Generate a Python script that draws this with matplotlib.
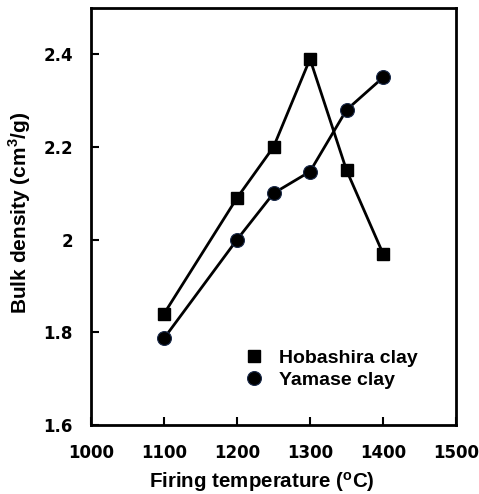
# bulk density vs firing temperature

# require
import matplotlib
matplotlib.use( 'Agg' )
import matplotlib.pyplot as plt

# data
TEMPS_H   = [ 1100, 1200, 1250, 1300, 1350, 1400 ]
HOBASHIRA = [ 1.84, 2.09, 2.20, 2.39, 2.15, 1.97 ]
TEMPS_Y   = [ 1100, 1200, 1250, 1300, 1350, 1400 ]
YAMASE    = [ 1.787, 2.00, 2.10, 2.147, 2.28, 2.35 ]
XTICKS    = [ 1000, 1100, 1200, 1300, 1400, 1500 ]
YTICKS    = [ 1.6, 1.8, 2.0, 2.2, 2.4 ]
YLABELS   = [ '1.6', '1.8', '2', '2.2', '2.4' ]

# configure
WIDE   = [ 'DejaVu Sans' ]
NARROW = [ 'Liberation Sans', 'DejaVu Sans' ]
plt.rcParams[ 'font.family' ] = NARROW
plt.rcParams[ 'font.weight' ] = 'bold'
plt.rcParams[ 'mathtext.fontset' ] = 'custom'
plt.rcParams[ 'mathtext.bf' ] = 'Liberation Sans:bold'

# initialize
figure = plt.figure( figsize=( 4.79, 4.94 ), dpi=100 )
axis   = figure.add_axes( [ 91/479, 1 - 425/494, 365/479, 417/494 ] )

# plot
axis.plot( TEMPS_H, HOBASHIRA, color='black', linewidth=2, marker='s', markersize=8.6, label='Hobashira clay' )
axis.plot( TEMPS_Y, YAMASE, color='black', linewidth=2, marker='o', markersize=10, markeredgecolor='#1a2a4a', markeredgewidth=0.8, label='Yamase clay' )

# axes
axis.set_xlim( 1000, 1500 )
axis.set_ylim( 1.6, 2.5 )
axis.set_xticks( XTICKS )
axis.set_yticks( YTICKS )
axis.set_yticklabels( YLABELS )
axis.tick_params( direction='in', length=6, width=1.5 )
axis.tick_params( axis='x', pad=14 )
axis.tick_params( axis='y', pad=13 )
for label in axis.get_xticklabels() + axis.get_yticklabels() :
	label.set_family( WIDE )
	label.set_fontsize( 12 )
for spine in axis.spines.values() : spine.set_linewidth( 2 )
axis.set_xlabel( 'Firing temperature ($\\mathbf{^o}$C)', fontsize=14.8, fontweight='bold' )
axis.set_ylabel( 'Bulk density (cm$^{\\mathbf{3}}$/g)', fontsize=15, fontweight='bold' )
axis.xaxis.set_label_coords( 0.468, -0.108 )
axis.yaxis.set_label_coords( -0.159, 0.51 )

# legend
legend = axis.legend( loc='lower left', bbox_to_anchor=( 0.376, 0.044 ), frameon=False, fontsize=14, handlelength=0.8, handletextpad=0.9, labelspacing=0.25 )
for handle in legend.legend_handles : handle.set_linestyle( 'none' )

# save
plt.savefig( 'out.png', dpi=100 )
